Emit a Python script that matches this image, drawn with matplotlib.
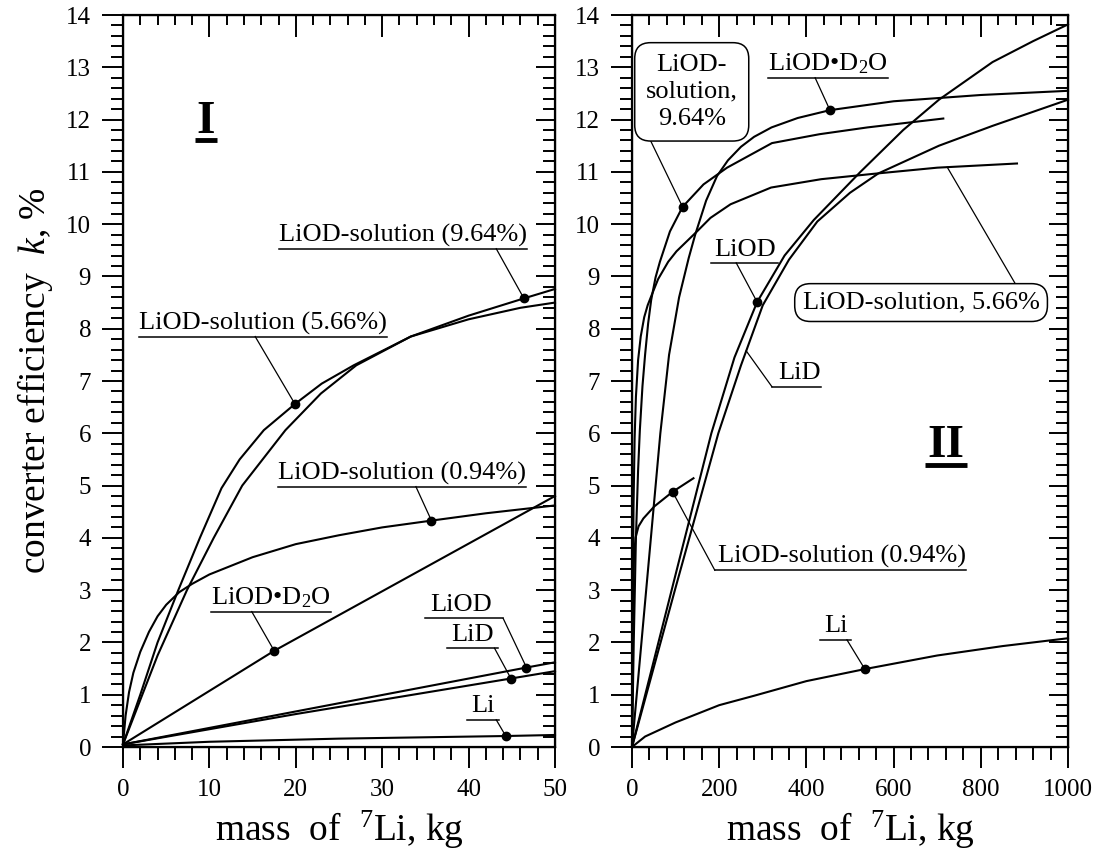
import matplotlib
matplotlib.use("Agg")
import matplotlib.pyplot as plt
import numpy as np
from matplotlib.ticker import MultipleLocator

plt.rcParams['font.family'] = ['Liberation Serif', 'DejaVu Serif']
plt.rcParams['mathtext.fontset'] = 'custom'
plt.rcParams['mathtext.rm'] = 'Liberation Serif'
plt.rcParams['mathtext.it'] = 'Liberation Serif:italic'

# ---- panel I : mass of 7Li 0..50 kg ----
I_sol964_x = [0, 2, 4, 7.4, 10.5, 13.8, 18.8, 22.9, 27, 33.3, 40, 46.4, 50]
I_sol964_y = [0.05, 0.9, 1.75, 3.0, 4.0, 5.0, 6.06, 6.76, 7.3, 7.85, 8.25, 8.58, 8.76]
I_sol566_x = [0, 2, 4, 6.4, 8.9, 11.4, 13.5, 16.3, 19.9, 23, 26.7, 33.3, 40, 46, 50]
I_sol566_y = [0.05, 1.0, 2.0, 3.0, 4.0, 4.95, 5.5, 6.06, 6.56, 6.95, 7.3, 7.85, 8.18, 8.4, 8.5]
I_sol094_x = [0, 0.3, 0.7, 1.2, 2, 3, 4, 5, 6.5, 8, 10, 15, 20, 25, 30, 35.7, 42, 50]
I_sol094_y = [0.05, 0.6, 1.05, 1.42, 1.82, 2.2, 2.5, 2.72, 2.96, 3.12, 3.3, 3.63, 3.88, 4.05,
              4.2, 4.33, 4.47, 4.62]
I_d2o_x = [0, 17.5, 50]
I_d2o_y = [0.05, 1.84, 4.8]
I_liod_x = [0, 20, 46.7, 50]
I_liod_y = [0.05, 0.68, 1.52, 1.62]
I_lid_x = [0, 20, 44.9, 50]
I_lid_y = [0.05, 0.63, 1.31, 1.45]
I_li_x = [0, 10, 25, 44.3, 50]
I_li_y = [0.03, 0.1, 0.16, 0.21, 0.23]

# ---- panel II : mass of 7Li 0..1000 kg ----
II_sol964_x = [0, 4, 9, 14, 18, 24, 30, 37, 44, 54, 64, 87, 116, 164, 218, 321, 430, 540, 714]
II_sol964_y = [0, 2.0, 4.0, 5.3, 6.06, 6.9, 7.5, 8.1, 8.55, 8.98, 9.28, 9.86, 10.33, 10.76,
               11.08, 11.55, 11.72, 11.85, 12.02]
II_sol566_x = [0, 1.5, 3.5, 6, 9, 14, 20, 28, 36, 44, 60, 83, 102, 149, 180, 226, 319, 434,
               551, 700, 883]
II_sol566_y = [0, 2.5, 4.6, 5.9, 6.7, 7.4, 7.85, 8.22, 8.45, 8.62, 8.95, 9.28, 9.48, 9.86,
               10.12, 10.38, 10.7, 10.86, 10.96, 11.08, 11.16]
II_sol094_x = [0, 1, 2.5, 4.5, 8, 15, 26, 51, 93, 141]
II_sol094_y = [0, 1.6, 2.8, 3.6, 4.0, 4.22, 4.37, 4.6, 4.88, 5.14]
II_d2o_x = [0, 65, 85, 108, 130, 145, 170, 195, 220, 250, 280, 320, 380, 454, 600, 800, 1000]
II_d2o_y = [0, 6.0, 7.5, 8.6, 9.35, 9.8, 10.45, 10.92, 11.22, 11.48, 11.67, 11.85, 12.03,
            12.18, 12.35, 12.47, 12.55]
II_liod_x = [0, 100, 182, 235, 287, 350, 417, 524, 622, 704, 827, 920, 1000]
II_liod_y = [0, 3.3, 6.0, 7.45, 8.51, 9.4, 10.08, 11.0, 11.8, 12.38, 13.1, 13.5, 13.82]
II_lid_x = [0, 100, 198, 250, 300, 360, 425, 500, 565, 704, 827, 1000]
II_lid_y = [0, 3.05, 6.0, 7.3, 8.45, 9.32, 10.05, 10.6, 10.97, 11.5, 11.88, 12.38]
II_li_x = [0, 30, 100, 200, 280, 400, 534, 700, 850, 1000]
II_li_y = [0, 0.2, 0.47, 0.8, 0.98, 1.26, 1.49, 1.75, 1.93, 2.08]

W, H = 1097, 860
fig = plt.figure(figsize=(W / 100, H / 100), dpi=100)
FS = 19


def px_axes(x0, x1, y0, y1):
    return fig.add_axes([x0 / W, 1 - y1 / H, (x1 - x0) / W, (y1 - y0) / H])


def setup(ax, xmax, xmaj, xmin):
    ax.set_xlim(0, xmax)
    ax.set_ylim(0, 14)
    for s in ax.spines.values():
        s.set_linewidth(1.6)
    ax.xaxis.set_major_locator(MultipleLocator(xmaj))
    ax.xaxis.set_minor_locator(MultipleLocator(xmin))
    ax.yaxis.set_major_locator(MultipleLocator(1))
    ax.yaxis.set_minor_locator(MultipleLocator(0.2))
    ax.tick_params(which='both', direction='out', labelsize=18, width=1.4,
                   top=False, right=False, pad=8)
    ax.tick_params(which='major', length=15)
    ax.tick_params(which='minor', length=9)
    # inward ticks on the top and right sides
    tx = ax.twiny()
    tx.set_xlim(0, xmax)
    tx.xaxis.set_major_locator(MultipleLocator(xmaj))
    tx.xaxis.set_minor_locator(MultipleLocator(xmin))
    tx.tick_params(which='both', direction='in', labeltop=False, width=1.4)
    tx.tick_params(which='major', length=16)
    tx.tick_params(which='minor', length=7)
    ty = ax.twinx()
    ty.set_ylim(0, 14)
    ty.yaxis.set_major_locator(MultipleLocator(1))
    ty.yaxis.set_minor_locator(MultipleLocator(0.2))
    ty.tick_params(which='both', direction='in', labelright=False, width=1.4)
    ty.tick_params(which='major', length=14)
    ty.tick_params(which='minor', length=9)
    ax.set_zorder(tx.get_zorder() + 2)
    ax.patch.set_visible(False)
    ax.set_xlabel('mass  of  $^{7}$Li, kg', fontsize=27, labelpad=6)


axI = px_axes(123, 555, 15, 747)
axII = px_axes(632, 1068, 15, 747)
setup(axI, 50, 10, 2)
setup(axII, 1000, 200, 40)
axI.set_ylabel('converter efficiency  $k$, %', fontsize=27, labelpad=8)

curvesI = [(I_sol964_x, I_sol964_y), (I_sol566_x, I_sol566_y), (I_sol094_x, I_sol094_y),
           (I_d2o_x, I_d2o_y), (I_liod_x, I_liod_y), (I_lid_x, I_lid_y), (I_li_x, I_li_y)]
curvesII = [(II_sol964_x, II_sol964_y), (II_sol566_x, II_sol566_y), (II_sol094_x, II_sol094_y),
            (II_d2o_x, II_d2o_y), (II_liod_x, II_liod_y), (II_lid_x, II_lid_y), (II_li_x, II_li_y)]
for cx, cy in curvesI:
    axI.plot(cx, cy, color='black', lw=1.5, clip_on=False)
for cx, cy in curvesII:
    axII.plot(cx, cy, color='black', lw=1.5, clip_on=False)


def on(cx, cy, x):
    return float(np.interp(x, cx, cy))


tags = []


def tag(ax, text, tx, ul_y, p, target, dot=True, pad=0):
    t = ax.text(tx, ul_y + 0.14, text, ha='left', va='baseline', fontsize=FS)
    tags.append((ax, t, ul_y, p, target, dot, pad))


# panel I labels
tag(axI, 'LiOD-solution (9.64%)', 18.0, 9.53, (43.2, 9.53), (46.4, on(I_sol964_x, I_sol964_y, 46.4)))
tag(axI, 'LiOD-solution (5.66%)', 1.9, 7.85, (15.3, 7.85), (19.9, on(I_sol566_x, I_sol566_y, 19.9)))
tag(axI, 'LiOD-solution (0.94%)', 17.9, 4.98, (33.9, 4.98), (35.7, on(I_sol094_x, I_sol094_y, 35.7)))
tag(axI, 'LiOD\u2022D$_2$O', 10.2, 2.59, (14.9, 2.59), (17.5, on(I_d2o_x, I_d2o_y, 17.5)))
tag(axI, 'LiOD', 35.5, 2.46, (44.0, 2.46), (46.7, on(I_liod_x, I_liod_y, 46.7)), pad=0.5)
tag(axI, 'LiD', 38.0, 1.89, (43.0, 1.89), (44.9, on(I_lid_x, I_lid_y, 44.9)), pad=0.5)
tag(axI, 'Li', 40.3, 0.52, (43.2, 0.52), (44.3, on(I_li_x, I_li_y, 44.3)), pad=0.5)

# panel II labels
tag(axII, 'LiOD\u2022D$_2$O', 313, 12.8, (420, 12.8), (454, on(II_d2o_x, II_d2o_y, 454)))
tag(axII, 'LiOD', 188, 9.26, (239, 9.26), (287, on(II_liod_x, II_liod_y, 287)), pad=6)
tag(axII, 'LiD', 336, 6.89, (321, 6.89), (262, on(II_lid_x, II_lid_y, 262)), dot=False)
tag(axII, 'LiOD-solution (0.94%)', 198, 3.38, (190, 3.38), (93, on(II_sol094_x, II_sol094_y, 93)))
tag(axII, 'Li', 440, 2.05, (493, 2.05), (534, on(II_li_x, II_li_y, 534)), pad=8)

# boxed labels in panel II
box = dict(boxstyle='round,pad=0.42,rounding_size=0.6', fc='white', ec='black', lw=1.1)
b964 = axII.text(137, 12.53, 'LiOD-\nsolution,\n9.64%', ha='center', va='center', fontsize=FS,
                 linespacing=1.3, bbox=box, zorder=5)
box2 = dict(boxstyle='round,pad=0.3,rounding_size=0.6', fc='white', ec='black', lw=1.1)
b566 = axII.text(663, 8.5, 'LiOD-solution, 5.66%', ha='center', va='center', fontsize=FS,
                 bbox=box2, zorder=5)
m964 = on(II_sol964_x, II_sol964_y, 116)
axII.plot(116, m964, 'o', color='black', ms=6, zorder=6)

# panel numbers
axI.text(9.6, 11.75, 'I', ha='center', va='baseline', fontsize=34, fontweight='bold')
axI.plot([8.3, 10.9], [11.6, 11.6], color='black', lw=3.5, solid_capstyle='butt')
axII.text(720, 5.55, 'II', ha='center', va='baseline', fontsize=34, fontweight='bold')
axII.plot([672, 768], [5.4, 5.4], color='black', lw=3.5, solid_capstyle='butt')

fig.canvas.draw()
rend = fig.canvas.get_renderer()
for ax, t, ul_y, p, target, dot, pad in tags:
    bb = t.get_window_extent(rend)
    inv = ax.transData.inverted()
    xa = min(inv.transform((bb.x0, 0))[0] - pad, p[0])
    xb = max(inv.transform((bb.x1, 0))[0] + pad, p[0])
    ax.plot([xa, xb], [ul_y, ul_y], color='black', lw=1.1)
    ax.plot([p[0], target[0]], [p[1], target[1]], color='black', lw=0.9)
    if dot:
        ax.plot(target[0], target[1], 'o', color='black', ms=6, zorder=6)

# pointer lines leaving the rounded boxes
inv = axII.transData.inverted()
bb = b964.get_bbox_patch().get_window_extent(rend)
y_bot = inv.transform((0, bb.y0))[1]
axII.plot([43, 116], [y_bot, m964], color='black', lw=0.9, zorder=4)
bb = b566.get_bbox_patch().get_window_extent(rend)
y_top = inv.transform((0, bb.y1))[1]
axII.plot([879, 723], [y_top, on(II_sol566_x, II_sol566_y, 723)], color='black', lw=0.9, zorder=4)

fig.savefig('out.png', dpi=100)
